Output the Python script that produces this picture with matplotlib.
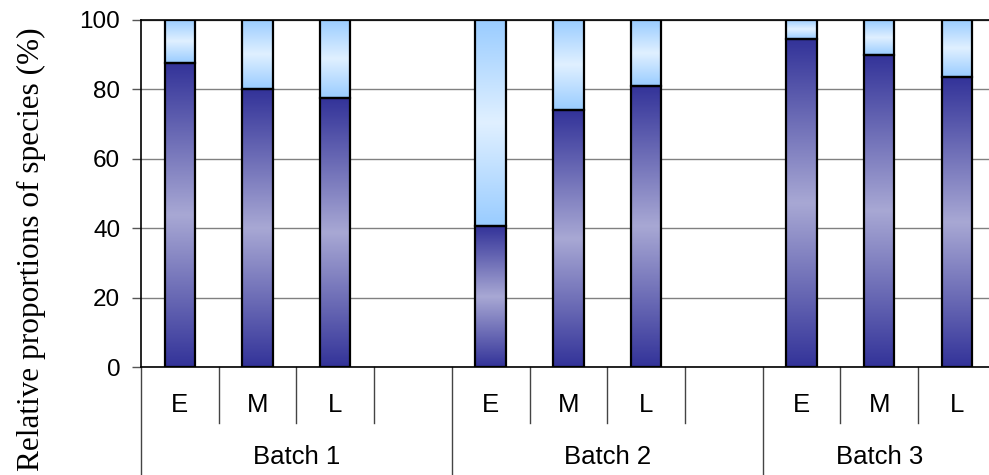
import numpy as np
import matplotlib
matplotlib.use("Agg")
import matplotlib.pyplot as plt
from matplotlib.transforms import blended_transform_factory

# ---- data ----
stages = ["E", "M", "L"]
batches = ["Batch 1", "Batch 2", "Batch 3"]
lower_b1 = [87.5, 80.0, 77.5]   # dark (lower) species share, %
lower_b2 = [40.5, 74.0, 81.0]
lower_b3 = [94.5, 90.0, 83.5]

# slot layout: E M L (gap) E M L (gap) E M L
lower = lower_b1 + [np.nan] + lower_b2 + [np.nan] + lower_b3
tick_labels = stages + [""] + stages + [""] + stages
x = np.arange(len(lower))
upper = [100 - v for v in lower]

dark = np.array([51, 51, 153]) / 255.0
dark_mid = np.array([168, 168, 212]) / 255.0
light_edge = np.array([153, 204, 255]) / 255.0
light_mid = np.array([224, 240, 255]) / 255.0


def grad_img(c_edge, c_mid, n=256):
    t = np.linspace(0, 1, n)
    w = 1 - np.abs(2 * t - 1)          # 0 at ends, 1 in the middle
    img = c_edge[None, :] + (c_mid - c_edge)[None, :] * w[:, None]
    return img[:, None, :]


fig = plt.figure(figsize=(9.89, 4.75), dpi=100)
ax = fig.add_axes([141 / 989, 108 / 475, 854.7 / 989, 347 / 475])

width = 0.39
ok = ~np.isnan(lower)
bars_lo = ax.bar(x[ok], np.array(lower)[ok], width, facecolor="none",
                 edgecolor="black", linewidth=1.6, zorder=4)
bars_hi = ax.bar(x[ok], np.array(upper)[ok], width, bottom=np.array(lower)[ok],
                 facecolor="none", edgecolor="black", linewidth=1.6, zorder=4)

# gradient fills clipped to each bar
for patches, c_edge, c_mid in [(bars_lo, dark, dark_mid), (bars_hi, light_edge, light_mid)]:
    for p in patches:
        x0, y0 = p.get_x(), p.get_y()
        im = ax.imshow(grad_img(c_edge, c_mid), extent=(x0, x0 + p.get_width(), y0, y0 + p.get_height()),
                       origin="lower", aspect="auto", zorder=3, interpolation="bilinear")
        im.set_clip_path(p)

ax.set_xlim(-0.5, len(lower) - 0.5)
ax.set_ylim(0, 100)
ax.set_yticks(range(0, 101, 20))
ax.yaxis.grid(True, color="#808080", linewidth=1.0, zorder=0)
ax.set_axisbelow(True)
ax.tick_params(axis="y", direction="out", length=6.5, width=1, color="#555555",
               labelsize=17.5, pad=8.5)
for lab in ax.get_yticklabels():
    lab.set_fontfamily("Liberation Sans")
ax.set_xticks([])

ax.spines["right"].set_visible(False)
for s in ["top", "left", "bottom"]:
    ax.spines[s].set_color("black")
    ax.spines[s].set_linewidth(1.2)

fig.text(31 / 989, 1 - 249 / 475, "Relative proportions of species (%)",
         rotation=90, ha="center", va="center",
         fontfamily="Liberation Serif", fontsize=22.5)

# hierarchical category axis below the plot
tr = blended_transform_factory(ax.transData, ax.transAxes)
px = 1 / 347.0  # one pixel in axes-fraction units (vertical)
for i, lab in enumerate(tick_labels):
    ax.text(x[i], -38 * px, lab, transform=tr, ha="center", va="center",
            fontsize=18.5, fontfamily="Liberation Sans")
batch_edges = [-0.5, 3.5, 7.5, 10.5]
batch_mids = [1.5, 5.5, 9.0]
for b in range(len(batches)):
    ax.text(batch_mids[b], -90 * px, batches[b], transform=tr, ha="center", va="center",
            fontsize=18.5, fontfamily="Liberation Sans")
for e in np.arange(-0.5, len(lower), 1.0):
    full = e in batch_edges
    ax.plot([e, e], [0, (-110 if full else -56) * px], transform=tr, color="#444444",
            linewidth=1.0, clip_on=False)

fig.savefig("out.png", dpi=100)
